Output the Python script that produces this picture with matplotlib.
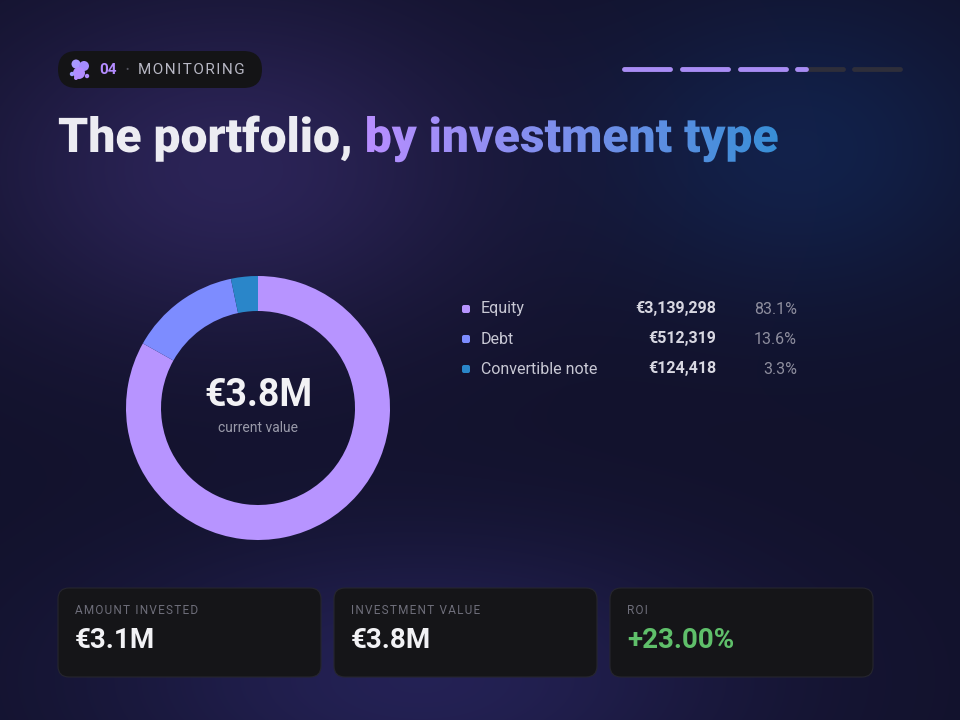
import matplotlib.pyplot as plt
import numpy as np
from matplotlib.patches import FancyBboxPatch, PathPatch, Circle
from matplotlib.textpath import TextPath
from matplotlib.font_manager import FontProperties

plt.rcParams['font.family'] = ['Roboto', 'DejaVu Sans']

# Data
types = ["Equity", "Debt", "Convertible note"]
amounts = [3139298, 512319, 124418]
shares = [83.1, 13.6, 3.3]
colors = ["#b794ff", "#7d8cff", "#2a86c9"]
kpi_labels = ["AMOUNT INVESTED", "INVESTMENT VALUE", "ROI"]
kpi_values = ["€3.1M", "€3.8M", "+23.00%"]
kpi_colors = ["#f2f2f5", "#f2f2f5", "#5fbf6a"]

W, H = 960, 720
fig = plt.figure(figsize=(9.6, 7.2), dpi=100)
bg = fig.add_axes([0, 0, 1, 1])
bg.set_xlim(0, W)
bg.set_ylim(0, H)
bg.axis("off")

# background with soft glows
yy, xx = np.mgrid[0:H, 0:W]
base = np.array([0.07, 0.07, 0.17])
img = np.ones((H, W, 3)) * base
g1 = np.exp(-(((xx - 230) / 260.0) ** 2 + ((yy - (H - 170)) / 170.0) ** 2))
g2 = np.exp(-(((xx - 800) / 200.0) ** 2 + ((yy - (H - 150)) / 150.0) ** 2))
g3 = np.exp(-(((xx - 420) / 320.0) ** 2 + ((yy - 40) / 140.0) ** 2))
img += g1[..., None] * np.array([0.10, 0.07, 0.17])
img += g2[..., None] * np.array([0.0, 0.06, 0.12])
img += g3[..., None] * np.array([0.07, 0.06, 0.16])
bg.imshow(np.clip(img, 0, 1), extent=[0, W, 0, H], origin="lower", zorder=0)

def Y(y):
    return H - y

# badge (pill)
bg.add_patch(FancyBboxPatch((58, Y(88)), 204, 37, boxstyle="round,pad=0,rounding_size=18.5",
                            fc="#141416", ec="none", zorder=2))
for cx, cy, r, c in [(76, 64, 4.5, "#a998ff"), (84, 66, 5, "#a48cff"), (79, 73, 6, "#b18cff"),
                     (72, 74, 2.2, "#9f9cff"), (87, 76, 2.2, "#b08cff"), (76, 78, 2, "#b48cff")]:
    bg.add_patch(Circle((cx, Y(cy)), r, fc=c, ec="none", zorder=3))
bg.text(99, Y(70), "04", color="#b48cff", fontsize=11, fontweight="bold", va="center", zorder=3)
bg.text(125, Y(70), "•", color="#555560", fontsize=7, va="center", zorder=3)
bg.text(138, Y(70), "\u200a".join("MONITORING"), color="#b8b8c4", fontsize=11,
        va="center", zorder=3)

# progress bars
for x0, x1 in [(622, 672), (680, 730), (738, 788), (852, 902), (795, 845)]:
    bg.plot([x0 + 2, x1 - 2], [Y(69), Y(69)], color="#2e2e3a", lw=3.5, solid_capstyle="round", zorder=2)
for x0, x1 in [(622, 672), (680, 730), (738, 788), (795, 808)]:
    bg.plot([x0 + 2, x1 - 2], [Y(69), Y(69)], color="#a88cf5", lw=3.5, solid_capstyle="round", zorder=3)

# title
fp = FontProperties(family="Roboto", weight="black")
tp1 = TextPath((0, 0), "The portfolio,", size=48, prop=fp)
w1 = tp1.get_extents().x1
tp1 = TextPath((58, Y(152)), "The portfolio,", size=48, prop=fp)
bg.add_patch(PathPatch(tp1, fc="#ececf2", ec="none", zorder=3))
tp2 = TextPath((58 + w1 + 15, Y(152)), "by investment type", size=48, prop=fp)
ext = tp2.get_extents()
clip = PathPatch(tp2, fc="none", ec="none", transform=bg.transData)
bg.add_patch(clip)
grad = np.linspace(0, 1, 256)
c0, c1 = np.array([0.72, 0.56, 1.0]), np.array([0.22, 0.56, 0.84])
gimg = (c0[None, :] * (1 - grad[:, None]) + c1[None, :] * grad[:, None])[None, :, :]
gi = bg.imshow(gimg, extent=[ext.x0, ext.x1, ext.y0 - 2, ext.y1 + 2], aspect="auto", zorder=3)
gi.set_clip_path(clip)
bg.set_xlim(0, W)
bg.set_ylim(0, H)

# donut
ax = fig.add_axes([(258 - 140) / W, (Y(408) - 140) / H, 280 / W, 280 / H])
ax.pie(amounts, colors=colors, startangle=90, counterclock=False, radius=132 / 140,
       wedgeprops=dict(width=35 / 140, edgecolor="none", linewidth=0))
ax.set_xlim(-1, 1)
ax.set_ylim(-1, 1)
ax.set_aspect("equal")
ax.axis("off")
total = sum(amounts)
bg.text(258, Y(396), f"€{total / 1e6:.1f}M", color="#f2f2f5", fontsize=27, fontweight="bold",
        ha="center", va="center", zorder=3)
bg.text(258, Y(428), "current value", color="#9a9aaa", fontsize=10, ha="center", va="center", zorder=3)

# legend
for i, (t, a, s, c) in enumerate(zip(types, amounts, shares, colors)):
    y = Y(309 + 30 * i)
    bg.add_patch(FancyBboxPatch((462, y - 4), 8, 8, boxstyle="round,pad=0,rounding_size=2", fc=c, ec="none", zorder=3))
    bg.text(481, y, t, color="#c8c8d4", fontsize=11.5, va="center", zorder=3)
    bg.text(716, y, f"€{a:,}", color="#d8d8e2", fontsize=11.5, fontweight="bold", ha="right", va="center", zorder=3)
    bg.text(797, y, f"{s:.1f}%", color="#8e8e9e", fontsize=11.5, ha="right", va="center", zorder=3)

# KPI cards
for i, (lab, val, vc) in enumerate(zip(kpi_labels, kpi_values, kpi_colors)):
    x0 = 58 + 276 * i
    bg.add_patch(FancyBboxPatch((x0, Y(677)), 263, 89, boxstyle="round,pad=0,rounding_size=11",
                                fc="#151518", ec="#26262e", lw=0.8, zorder=2))
    bg.text(x0 + 17, Y(610), "\u200a".join(lab), color="#6e6e7a", fontsize=8.5, va="center", zorder=3)
    bg.text(x0 + 17, Y(641), val, color=vc, fontsize=20, fontweight="bold", va="center", zorder=3)

fig.savefig("out.png", dpi=100)
